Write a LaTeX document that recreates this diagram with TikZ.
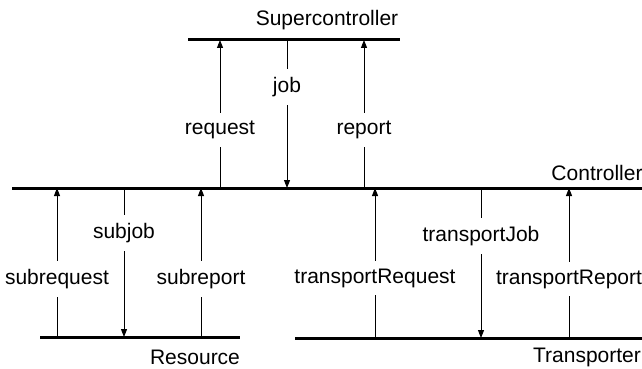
\documentclass[tikz,border=0pt]{standalone}
\usepackage{fontspec}
\setmainfont{Liberation Sans}
\usepackage{tikz}
\usetikzlibrary{arrows.meta}

\begin{document}
\begin{tikzpicture}[x=1pt, y=-1pt,
    every node/.style={font=\fontsize{21}{25}\selectfont},
    level/.style={line width=3pt},
    msg/.style={line width=1pt, -{Triangle[length=8pt,width=6pt]}},
    lbl/.style={fill=white, inner xsep=2pt, inner ysep=8pt}]
    \useasboundingbox (0, 0) rectangle (642, 369);

    % the four levels
    \coordinate (super-w) at (188, 40);
    \coordinate (super-e) at (400, 40);
    \coordinate (ctrl-w) at (12, 188);
    \coordinate (ctrl-e) at (642, 188);
    \coordinate (res-w) at (40, 337);
    \coordinate (res-e) at (240, 337);
    \coordinate (trans-w) at (295, 338);
    \coordinate (trans-e) at (642, 338);

    \draw[level] (super-w) -- (super-e);
    \draw[level] (ctrl-w) -- (ctrl-e);
    \draw[level] (res-w) -- (res-e);
    \draw[level] (trans-w) -- (trans-e);

    \node at (327, 20) (super) {Supercontroller};
    \node at (597, 173) (ctrl) {Controller};
    \node at (195, 357) (res) {Resource};
    \node at (587, 357) (trans) {Transporter};

    % messages
    \coordinate (request) at (220, 130);
    \coordinate (job) at (287, 87);
    \coordinate (report) at (364, 130);
    \coordinate (subrequest) at (57, 279);
    \coordinate (subjob) at (124, 233);
    \coordinate (subreport) at (201, 279);
    \coordinate (transportRequest) at (375, 278);
    \coordinate (transportJob) at (481, 236);
    \coordinate (transportReport) at (569, 279);

    \draw[msg] (request |- ctrl-w) -- (request |- super-w);
    \draw[msg] (job |- super-w) -- (job |- ctrl-w);
    \draw[msg] (report |- ctrl-w) -- (report |- super-w);
    \draw[msg] (subrequest |- res-w) -- (subrequest |- ctrl-w);
    \draw[msg] (subjob |- ctrl-w) -- (subjob |- res-w);
    \draw[msg] (subreport |- res-w) -- (subreport |- ctrl-w);
    \draw[msg] (transportRequest |- trans-w) -- (transportRequest |- ctrl-w);
    \draw[msg] (transportJob |- ctrl-w) -- (transportJob |- trans-w);
    \draw[msg] (transportReport |- trans-w) -- (transportReport |- ctrl-w);

    \node[lbl] at (request) (request-l) {request};
    \node[lbl] at (job) (job-l) {job};
    \node[lbl] at (report) (report-l) {report};
    \node[lbl] at (subrequest) (subrequest-l) {subrequest};
    \node[lbl] at (subjob) (subjob-l) {subjob};
    \node[lbl] at (subreport) (subreport-l) {subreport};
    \node[lbl] at (transportRequest) (transportRequest-l) {transportRequest};
    \node[lbl] at (transportJob) (transportJob-l) {transportJob};
    \node[lbl] at (transportReport) (transportReport-l) {transportReport};
\end{tikzpicture}
\end{document}
